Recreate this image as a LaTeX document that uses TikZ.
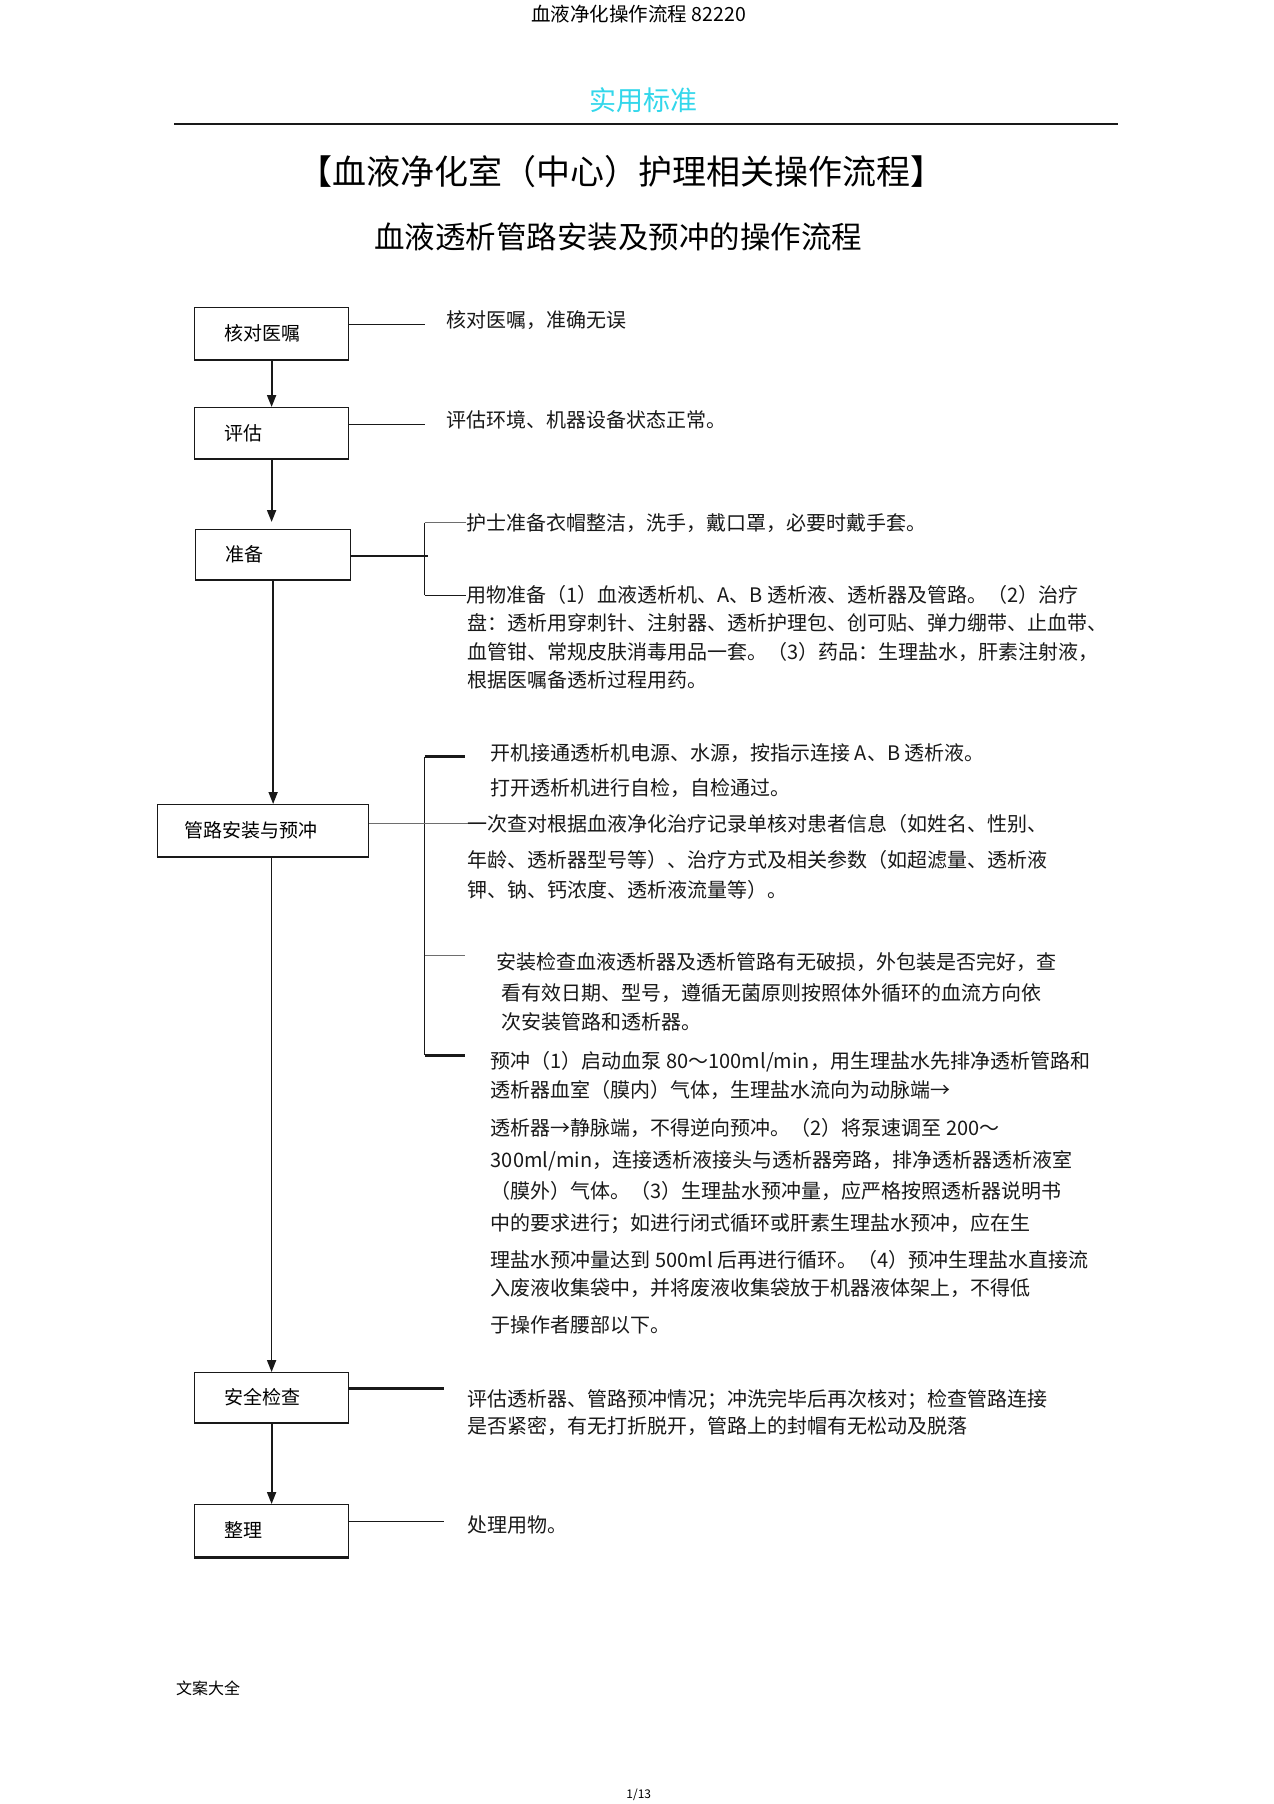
\documentclass[tikz,border=0pt]{standalone}
\usepackage{fontspec}
\setmainfont{Noto Sans CJK SC}
\usetikzlibrary{arrows.meta}
\definecolor{cyanhd}{RGB}{50,215,235}
\definecolor{ink}{RGB}{25,25,25}
\definecolor{midgray}{RGB}{110,110,110}
\newcommand\fsbody{\fontsize{20pt}{24pt}\selectfont}
\newcommand\fsbox{\fontsize{19pt}{23pt}\selectfont}
\tikzset{
  box/.style={draw=ink, line width=1.2pt, anchor=north west, inner ysep=0pt,
    align=left, font=\fsbox, text height=16.4pt, text depth=1.9pt},
  txt/.style={font=\fsbody, anchor=west, inner sep=0pt, text height=17.2pt, text depth=2pt, text=ink},
  arr/.style={draw=ink, line width=1.8pt, -{Triangle[length=12pt,width=9pt]}},
  conn/.style={draw=ink, line width=1pt},
  connb/.style={draw=ink, line width=3pt},
  gconn/.style={draw=midgray, line width=1.5pt},
  botline/.style={draw=ink, line width=2.4pt}
}
\begin{document}
\begin{tikzpicture}[x=1pt,y=-1pt]
\useasboundingbox (0,0) rectangle (1274,1804);
\fill[white] (0,0) rectangle (1274,1804);

% page header
\node[font=\fontsize{19.5pt}{21pt}\selectfont, inner sep=0pt] (hdr) at (638.7,14) {血液净化操作流程 82220};
\node[font=\fontsize{27pt}{30pt}\selectfont, text=cyanhd, inner sep=0pt] (std) at (643,100) {实用标准};
\coordinate (ruleL) at (174,124);
\coordinate (ruleR) at (1118,124);
\draw[line width=2.5pt, ink] (ruleL) -- (ruleR);
\node[font=\fontsize{34pt}{38pt}\selectfont, inner sep=0pt] (title) at (621.5,171.7) {【血液净化室（中心）护理相关操作流程】};
\node[font=\fontsize{30.5pt}{34pt}\selectfont, inner sep=0pt] (subtitle) at (618.3,237.3) {血液透析管路安装及预冲的操作流程};

% boxes
\node[box, inner xsep=30pt, text width=94pt, minimum height=52pt] (b1) at (194,307) {核对医嘱};
\node[box, inner xsep=30pt, text width=94pt, minimum height=51pt] (b2) at (194,407) {评估};
\node[box, inner xsep=30pt, text width=95pt, minimum height=50pt] (b3) at (195,529) {准备};
\node[box, inner xsep=27.5pt, text width=156.5pt, minimum height=52pt] (b4) at (156.5,804) {管路安装与预冲};
\node[box, inner xsep=30pt, text width=94pt, minimum height=50pt] (b5) at (194,1372) {安全检查};
\node[box, inner xsep=30pt, text width=94pt, minimum height=52pt] (b6) at (194,1504) {整理};
\foreach \b in {b1,b2,b3,b4,b5} \draw[botline] (\b.south west) -- (\b.south east);
\draw[draw=ink, line width=3.4pt] (b6.south west) -- (b6.south east);

% main arrows
\draw[arr] (b1.south) -- (b2.north);
\draw[arr, shorten >=7pt] (b2.south) -- (b2.south |- b3.north);
\draw[arr, line width=1.7pt] (b3.south) -- (b3.south |- b4.north);
\draw[arr, line width=1.7pt] (b4.south -| b5.north) -- (b5.north);
\draw[arr] (b5.south) -- (b6.north);

% step 1
\coordinate (e1) at (425,324);
\draw[conn] (b1.east |- e1) -- (e1);
\node[txt] (t1) at (446,320) {核对医嘱，准确无误};

% step 2
\coordinate (e2) at (425,424);
\draw[conn] (b2.east |- e2) -- (e2);
\node[txt] (t2) at (446,420) {评估环境、机器设备状态正常。};

% step 3
\node[txt] (t3a) at (466,522.7) {护士准备衣帽整洁，洗手，戴口罩，必要时戴手套。};
\node[txt] (t3b) at (466,595) {用物准备（1）血液透析机、A、B 透析液、透析器及管路。（2）治疗};
\node[txt] (t3c) at (467,623.3) {盘：透析用穿刺针、注射器、透析护理包、创可贴、弹力绷带、止血带、};
\node[txt] (t3d) at (467,651.7) {血管钳、常规皮肤消毒用品一套。（3）药品：生理盐水，肝素注射液，};
\node[txt] (t3e) at (467,680) {根据医嘱备透析过程用药。};
\coordinate (v3t) at (424.6,522.7);
\coordinate (v3b) at (424.6,595);
\coordinate (e3) at (427.5,556);
\draw[draw=ink, line width=2pt] (b3.east |- e3) -- (e3);
\draw[conn] (v3t) -- (v3b);
\draw[gconn] (v3t) -- (t3a.west);
\draw[conn] (v3b) -- (t3b.west);

% step 4
\coordinate (v4a) at (424.8,756.7);
\coordinate (v4d) at (424.8,1055);
\coordinate (h4a) at (464.5,756.7);
\coordinate (h4c) at (464.5,955.3);
\coordinate (v4c) at (424.8,955.3);
\coordinate (h4d) at (464.5,1055);
\draw[conn] (v4a) -- (v4d);
\draw[connb] (v4a) -- (h4a);
\draw[gconn] (v4c) -- (h4c);
\draw[connb] (v4d) -- (h4d);
\node[txt] (t4a) at (490.3,753.3) {开机接通透析机电源、水源，按指示连接 A、B 透析液。};
\node[txt] (t4b) at (490.3,788.3) {打开透析机进行自检，自检通过。};
\node[txt] (t4c) at (467.6,823.7) {一次查对根据血液净化治疗记录单核对患者信息（如姓名、性别、};
\node[txt] (t4d) at (467.6,860) {年龄、透析器型号等）、治疗方式及相关参数（如超滤量、透析液};
\node[txt] (t4e) at (467.6,890) {钾、钠、钙浓度、透析液流量等）。};
\node[txt] (t4f) at (496.4,961.7) {安装检查血液透析器及透析管路有无破损，外包装是否完好，查};
\node[txt] (t4g) at (501.3,992.7) {看有效日期、型号，遵循无菌原则按照体外循环的血流方向依};
\node[txt] (t4h) at (501.3,1021.7) {次安装管路和透析器。};
\draw[draw=midgray, line width=1pt] (b4.east |- t4c.west) -- (t4c.west);
\node[txt] (t4i) at (490.6,1060.7) {预冲（1）启动血泵 80～100ml/min，用生理盐水先排净透析管路和};
\node[txt] (t4j) at (490.6,1090) {透析器血室（膜内）气体，生理盐水流向为动脉端→};
\node[txt] (t4k) at (490.6,1128.3) {透析器→静脉端，不得逆向预冲。（2）将泵速调至 200～};
\node[txt] (t4l) at (490.6,1160) {300ml/min，连接透析液接头与透析器旁路，排净透析器透析液室};
\node[txt] (t4m) at (490.6,1190.7) {（膜外）气体。（3）生理盐水预冲量，应严格按照透析器说明书};
\node[txt] (t4n) at (490.6,1222.7) {中的要求进行；如进行闭式循环或肝素生理盐水预冲，应在生};
\node[txt] (t4o) at (490.6,1260) {理盐水预冲量达到 500ml 后再进行循环。（4）预冲生理盐水直接流};
\node[txt] (t4p) at (490.6,1288.3) {入废液收集袋中，并将废液收集袋放于机器液体架上，不得低};
\node[txt] (t4q) at (490.6,1325) {于操作者腰部以下。};

% step 5
\coordinate (e5) at (444.3,1388.7);
\draw[draw=ink, line width=2.5pt] (b5.east |- e5) -- (e5);
\node[txt] (t5a) at (467.6,1399.3) {评估透析器、管路预冲情况；冲洗完毕后再次核对；检查管路连接};
\node[txt] (t5b) at (467.6,1426) {是否紧密，有无打折脱开，管路上的封帽有无松动及脱落};

% step 6
\coordinate (e6) at (444.3,1521.7);
\draw[conn] (b6.east |- e6) -- (e6);
\node[txt] (t6) at (467.6,1525) {处理用物。};

% footer
\node[font=\fontsize{16pt}{18pt}\selectfont, anchor=west, inner sep=0pt] (foot) at (175.8,1688.3) {文案大全};
\node[font=\fontsize{12pt}{14pt}\selectfont, inner sep=0pt] (pg) at (638.8,1795) {1/13};
\end{tikzpicture}
\end{document}
